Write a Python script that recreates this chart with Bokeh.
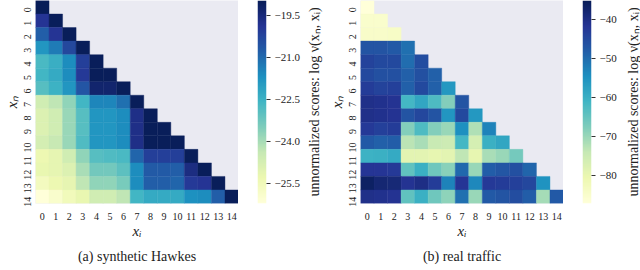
import math
import numpy as np
from bokeh.plotting import figure
from bokeh.layouts import row
from bokeh.models import (ColumnDataSource, LinearColorMapper, FixedTicker,
                          Range1d, Title, LinearAxis)
from bokeh.palettes import YlGnBu9
from bokeh.embed import file_html
from bokeh.resources import INLINE

# ---------------- data (lower-triangular: row n holds columns 0..n) ----------------
positions = list(range(15))
tick_labels = [str(i) for i in positions]

synthetic_scores = [
    [-18.97],
    [-19.9, -19.0],
    [-20.8, -19.9, -19.0],
    [-21.8, -21.3, -20.3, -19.0],
    [-22.7, -22.4, -21.6, -20.1, -19.0],
    [-22.6, -22.3, -21.6, -20.0, -19.0, -19.0],
    [-22.9, -22.5, -21.8, -20.6, -19.3, -19.3, -19.0],
    [-24.6, -24.3, -23.7, -22.6, -21.5, -21.5, -21.1, -19.0],
    [-24.9, -24.6, -23.8, -22.9, -21.8, -21.8, -21.6, -19.7, -19.0],
    [-24.9, -24.6, -23.8, -22.9, -21.8, -21.8, -21.6, -19.7, -19.0, -19.0],
    [-24.7, -24.4, -23.8, -22.8, -21.8, -21.8, -21.6, -19.7, -19.0, -19.0, -19.0],
    [-25.3, -25.1, -24.6, -23.7, -22.9, -22.8, -22.7, -20.9, -20.1, -20.1, -20.1, -19.0],
    [-25.2, -25.1, -24.9, -24.0, -23.3, -23.3, -23.0, -21.6, -20.7, -20.7, -20.8, -19.6, -19.0],
    [-25.6, -25.3, -25.1, -24.3, -23.7, -23.7, -23.4, -21.6, -20.8, -20.8, -20.9, -20.0, -19.9, -19.0],
    [-26.2, -25.9, -25.5, -25.2, -24.6, -24.6, -24.3, -22.6, -22.3, -22.3, -22.3, -21.7, -21.6, -20.8, -19.0],
]
synthetic_range = (-26.2, -18.97)
synthetic_cb_ticks = [-25.5, -24.0, -22.5, -21.0, -19.5]
synthetic_cb_labels = ["\u221225.5", "\u221224.0", "\u221222.5", "\u221221.0", "\u221219.5"]

traffic_scores = [
    [-87.2],
    [-85.0, -85.0],
    [-84.5, -84.5, -84.0],
    [-46.5, -46.5, -47.5, -50.5],
    [-44.0, -45.0, -45.0, -50.0, -45.5],
    [-45.0, -46.0, -46.0, -48.5, -46.0, -48.5],
    [-43.0, -44.0, -43.5, -48.5, -45.0, -48.5, -56.0],
    [-40.5, -41.0, -41.5, -61.5, -58.5, -62.5, -68.0, -46.5],
    [-40.5, -41.0, -41.5, -46.5, -44.5, -46.5, -55.5, -45.0, -56.0],
    [-42.5, -43.5, -43.0, -68.0, -62.5, -68.0, -70.0, -54.5, -72.0, -53.0],
    [-47.5, -48.5, -48.0, -73.0, -71.5, -74.5, -75.0, -61.5, -76.5, -60.0, -58.5],
    [-60.5, -60.0, -59.0, -79.0, -79.0, -79.5, -79.0, -73.5, -79.5, -71.5, -70.0, -66.5],
    [-42.0, -42.0, -42.5, -64.5, -60.0, -66.0, -68.5, -49.5, -70.0, -48.0, -47.0, -46.0, -49.0],
    [-36.5, -38.0, -38.5, -41.5, -40.0, -43.0, -53.0, -42.0, -53.5, -42.5, -43.0, -43.5, -44.5, -55.0],
    [-40.5, -41.0, -41.5, -64.5, -60.0, -66.0, -69.0, -50.5, -70.0, -47.5, -46.5, -45.5, -48.0, -71.0, -47.5],
]
traffic_range = (-87.2, -35.1)
traffic_cb_ticks = [-80, -70, -60, -50, -40]
traffic_cb_labels = ["\u221280", "\u221270", "\u221260", "\u221250", "\u221240"]

captions = ["(a) synthetic Hawkes", "(b) real traffic"]
x_label = "x\u1d62"
y_label = "x\u2099"
cb_label = "unnormalized scores: log \u03bd(x\u2099, x\u1d62)"

# ---------------- styling ----------------
FONT = "Liberation Serif"
BG = "#eaeaf2"
TXT = "#222222"
FRAME = 203
BOTTOM = 67
CB_TITLE_SIZE = "14px"


def interp_palette(pal, n):
    rgb = np.array([[int(c[k:k + 2], 16) for k in (1, 3, 5)] for c in pal], float)
    xs = np.linspace(0, 1, len(pal))
    t = np.linspace(0, 1, n)
    out = np.stack([np.interp(t, xs, rgb[:, k]) for k in range(3)], 1)
    return ["#%02x%02x%02x" % tuple(int(round(v)) for v in r) for r in out]


PALETTE = interp_palette(list(YlGnBu9)[::-1], 256)


def label_axis(text, standoff):
    """An axis that carries only a (rotated) label."""
    return LinearAxis(ticker=FixedTicker(ticks=[]), axis_label=text,
                      axis_line_color=None, major_tick_line_color=None,
                      minor_tick_line_color=None, major_tick_out=0, major_tick_in=0,
                      minor_tick_out=0, major_label_standoff=0,
                      axis_label_standoff=standoff, axis_label_text_font=FONT,
                      axis_label_text_font_size=CB_TITLE_SIZE,
                      axis_label_text_font_style="normal", axis_label_text_color=TXT)


def heatmap(rows, mapper, caption, left, prev_cb_title=None):
    xs, ys, vs = [], [], []
    for n, r in enumerate(rows):
        for i, v in enumerate(r):
            xs.append(i)
            ys.append(n)
            vs.append(v)
    src = ColumnDataSource(dict(x=xs, y=ys, v=vs))

    p = figure(frame_width=FRAME, frame_height=FRAME,
               x_range=Range1d(-0.5, 14.5), y_range=Range1d(14.5, -0.5),
               output_backend="svg", toolbar_location=None,
               min_border_left=left, min_border_right=0,
               min_border_top=0, min_border_bottom=BOTTOM)
    p.background_fill_color = BG
    p.border_fill_color = "white"
    p.outline_line_color = None
    p.grid.visible = False

    p.rect("x", "y", 1, 1, source=src,
           fill_color={"field": "v", "transform": mapper},
           line_color={"field": "v", "transform": mapper}, line_width=0.4)

    for ax in (p.xaxis[0], p.yaxis[0]):
        ax.ticker = FixedTicker(ticks=positions)
        ax.major_label_overrides = {i: s for i, s in zip(positions, tick_labels)}
        ax.axis_line_color = None
        ax.major_tick_line_color = None
        ax.minor_tick_line_color = None
        ax.major_tick_out = 0
        ax.minor_tick_out = 0
        ax.major_label_text_font = FONT
        ax.major_label_text_font_size = "10px"
        ax.major_label_text_color = TXT
        ax.axis_label_text_font = FONT
        ax.axis_label_text_font_style = "italic"
        ax.axis_label_text_font_size = "15px"
        ax.axis_label_text_color = TXT
    p.xaxis.axis_label = x_label
    p.yaxis.axis_label = y_label
    p.xaxis.major_label_standoff = 9
    p.xaxis.axis_label_standoff = 0
    p.yaxis.major_label_standoff = 8
    p.yaxis.axis_label_standoff = -2
    p.yaxis.major_label_orientation = math.pi / 2

    if prev_cb_title is not None:
        p.add_layout(label_axis(prev_cb_title, 4), "left")

    p.add_layout(Title(text=caption, align="center", text_font=FONT,
                       text_font_size="14px", text_font_style="normal",
                       text_color=TXT, standoff=11), "below")
    return p


def colorbar(mapper, vrange, ticks, labels, left, right):
    cb = figure(frame_width=9, frame_height=FRAME,
                x_range=Range1d(0, 1), y_range=Range1d(*vrange),
                x_axis_location=None, y_axis_location="right",
                output_backend="svg", toolbar_location=None,
                min_border_left=left, min_border_right=right,
                min_border_top=0, min_border_bottom=BOTTOM)
    cb.grid.visible = False
    cb.outline_line_color = None
    cb.background_fill_color = "white"
    gradient = np.linspace(vrange[0], vrange[1], 256)[:, None]
    cb.image(image=[gradient], x=0, y=vrange[0], dw=1, dh=vrange[1] - vrange[0],
             color_mapper=mapper)
    ax = cb.yaxis[0]
    ax.ticker = FixedTicker(ticks=ticks)
    ax.major_label_overrides = {t: s for t, s in zip(ticks, labels)}
    ax.axis_line_color = None
    ax.minor_tick_line_color = None
    ax.major_tick_line_color = "#333333"
    ax.major_tick_line_width = 1.2
    ax.major_tick_in = 0
    ax.major_tick_out = 4
    ax.major_label_standoff = 4
    ax.major_label_text_font = FONT
    ax.major_label_text_font_size = "11px"
    ax.major_label_text_color = TXT
    return cb


def title_strip(text, left):
    t = figure(frame_width=1, frame_height=FRAME, x_range=Range1d(0, 1),
               y_range=Range1d(0, 1), x_axis_location=None, y_axis_location=None,
               output_backend="svg", toolbar_location=None,
               min_border_left=left, min_border_right=0,
               min_border_top=0, min_border_bottom=BOTTOM)
    t.grid.visible = False
    t.outline_line_color = None
    t.background_fill_color = "white"
    t.add_layout(label_axis(text, 0), "left")
    return t


map_a = LinearColorMapper(palette=PALETTE, low=synthetic_range[0], high=synthetic_range[1])
map_b = LinearColorMapper(palette=PALETTE, low=traffic_range[0], high=traffic_range[1])

pa = heatmap(synthetic_scores, map_a, captions[0], 35)
ca = colorbar(map_a, synthetic_range, synthetic_cb_ticks, synthetic_cb_labels, 19, 34)
pb = heatmap(traffic_scores, map_b, captions[1], 58, prev_cb_title=cb_label)
cbb = colorbar(map_b, traffic_range, traffic_cb_ticks, traffic_cb_labels, 19, 30)
tail = title_strip(cb_label, 19)

layout = row(pa, ca, pb, cbb, tail, spacing=0)
open("out.html", "w").write(file_html(layout, INLINE))
